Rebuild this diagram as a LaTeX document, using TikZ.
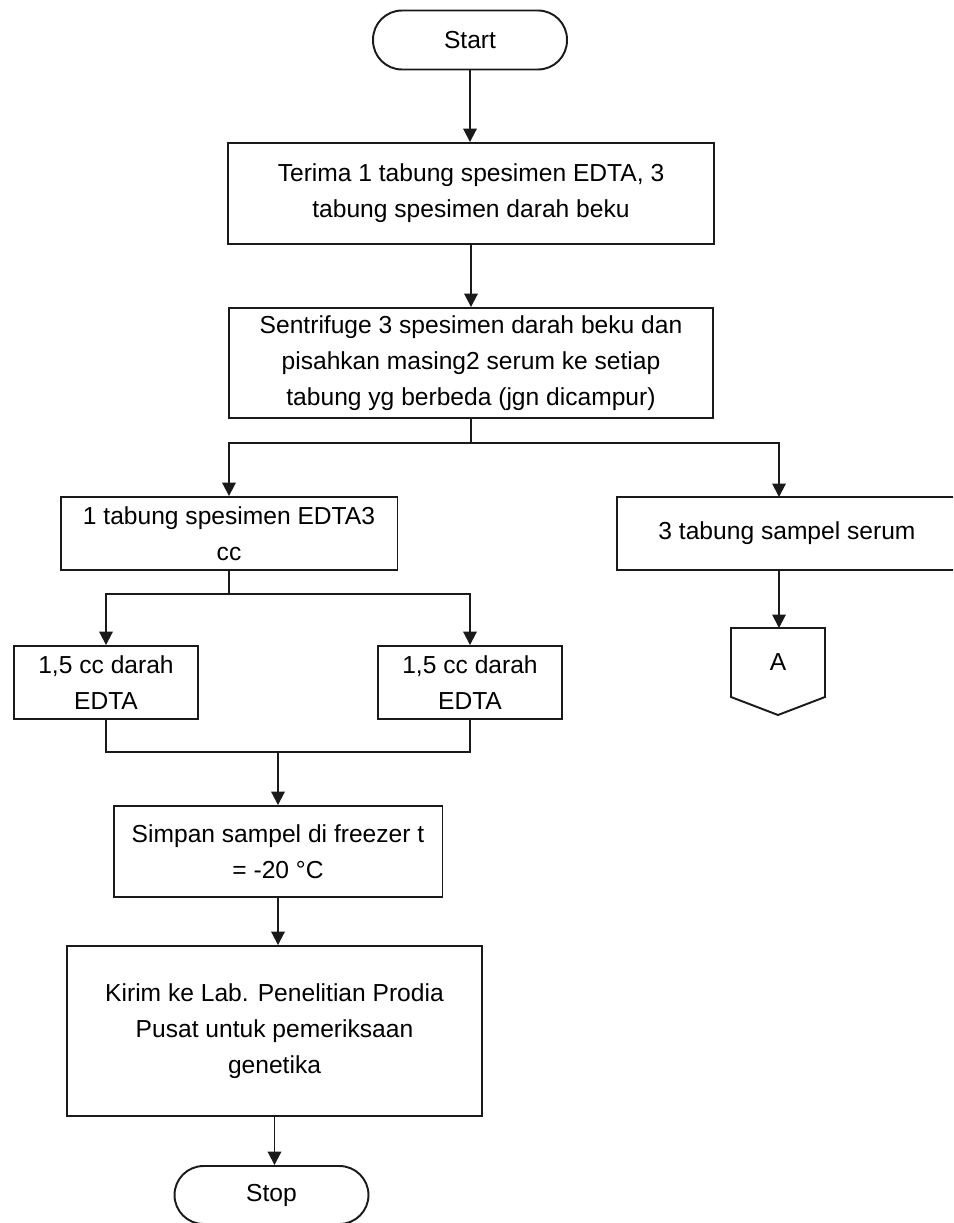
\documentclass[tikz,border=0pt]{standalone}
\usepackage{fontspec}
\setmainfont{Liberation Sans}
\usepackage{xcolor}
\usepackage{tikz}
\usetikzlibrary{positioning, arrows.meta, calc}
\definecolor{ink}{HTML}{1A1A1A}
\newcommand{\flowfont}{\fontsize{14}{20.5}\selectfont}
\tikzset{
  terminal/.style = {rectangle, rounded corners=0.58cm, draw=ink, line width=1.1pt,
                     minimum width=3.88cm, minimum height=1.18cm, font=\flowfont},
  process/.style  = {rectangle, draw=ink, line width=1.1pt, fill=white,
                     align=center, inner sep=2pt, font=\flowfont},
  ar/.style       = {-{Triangle[length=2.7mm,width=2.7mm]}, line width=1.1pt, draw=ink},
  ln/.style       = {line width=1.1pt, draw=ink},
}
\begin{document}
\begin{tikzpicture}[x=0.02cm, y=-0.02cm]
  \clip (0,0) rectangle (953,1223);

  % ----- main column -----
  \node[terminal] (start) at (470,40) {Start};
  \node[process, minimum width=9.72cm, minimum height=2.02cm] (terima) at (471,193.5)
    {Terima 1 tabung spesimen EDTA, 3\\ tabung spesimen darah beku};
  \node[process, minimum width=9.7cm, minimum height=2.2cm] (sentri) at (471,363)
    {Sentrifuge 3 spesimen darah beku dan\\ pisahkan masing2 serum ke setiap\\ tabung yg berbeda (jgn dicampur)};

  % ----- EDTA branch -----
  \node[process, minimum width=6.74cm, minimum height=1.46cm] (edta) at (229,533.5)
    {1 tabung spesimen EDTA3\\ cc};
  \node[process, minimum width=3.68cm, minimum height=1.46cm] (darahA) at (106,682.5)
    {1,5 cc darah\\ EDTA};
  \node[process, minimum width=3.68cm, minimum height=1.46cm] (darahB) at (470,682.5)
    {1,5 cc darah\\ EDTA};
  \node[process, minimum width=6.58cm, minimum height=1.82cm] (simpan) at (278,851.5)
    {Simpan sampel di freezer t\\ = -20 °C};
  \node[process, minimum width=8.3cm, minimum height=3.4cm] (kirim) at (274.5,1031)
    {Kirim ke Lab. Penelitian Prodia\\ Pusat untuk pemeriksaan\\ genetika};
  \node[terminal, minimum height=1.16cm] (stop) at (271.5,1195) {Stop};

  % ----- serum branch -----
  \node[process, minimum width=6.8cm, minimum height=1.46cm] (serum) at (787,533.5)
    {3 tabung sampel serum};
  \draw[ln, line join=miter] (731,628) -- (825,628) -- (825,697) -- (778,715) -- (731,697) -- cycle;
  \node[font=\flowfont] (conA) at (778,662) {A};

  % connectors
  \coordinate (split) at (471,443);
  \coordinate (serumin) at (779,497);
  \coordinate (split2) at (229,594);
  \coordinate (join) at (278,752);
  \coordinate (conAtop) at (779,628);

  \draw[ar] (start.south) -- (start.south |- terima.north);
  \draw[ar] (terima.south) -- (terima.south |- sentri.north);
  \draw[ln] (sentri.south) -- (split);
  \draw[ar] (split) -| (edta.north);
  \draw[ar] (split) -| (serumin);
  \draw[ar] (serumin |- serum.south) -- (conAtop);
  \draw[ln] (edta.south) -- (split2);
  \draw[ar] (split2) -| (darahA.north);
  \draw[ar] (split2) -| (darahB.north);
  \draw[ln] (darahA.south) |- (join);
  \draw[ln] (darahB.south) |- (join);
  \draw[ar] (join) -- (join |- simpan.north);
  \draw[ar] (simpan.south) -- (simpan.south |- kirim.north);
  \draw[ar] (kirim.south) -- (kirim.south |- stop.north);

\end{tikzpicture}
\end{document}
